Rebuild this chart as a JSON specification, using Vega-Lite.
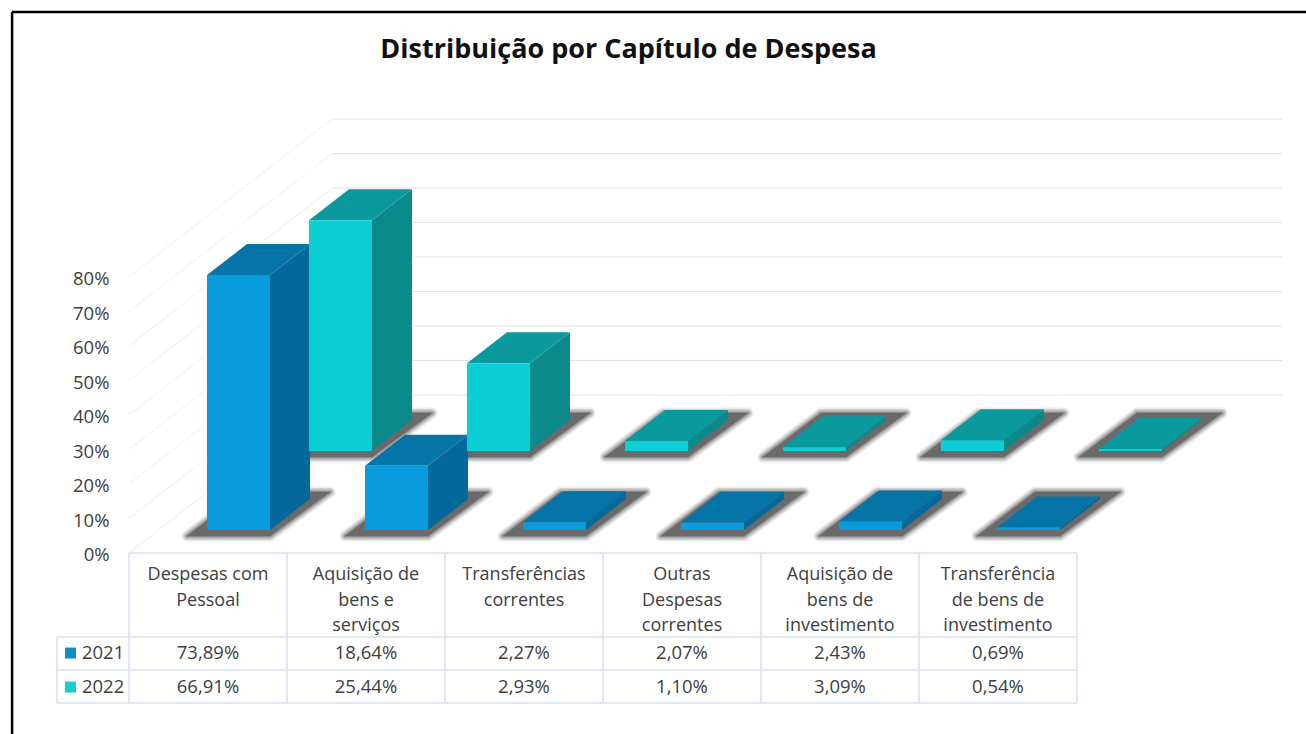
{"$schema":"https://vega.github.io/schema/vega-lite/v6.json","width":1153,"height":434,"autosize":{"type":"none"},"padding":{"left":129,"top":119,"right":24,"bottom":181},"background":"#ffffff","config":{"view":{"stroke":null},"font":"Open Sans","axisY":{"domain":false,"ticks":false,"grid":false,"title":null,"labelPadding":20,"labelOffset":1.5,"labelFont":"Open Sans","labelFontSize":18.5,"labelColor":"#404040"}},
"title":{"text":"Distribuição por Capítulo de Despesa","font":"Open Sans","fontSize":27,"fontWeight":"bold","color":"#111111","anchor":"middle","dx":-77,"offset":-53},
"datasets":{"bars":[
{"cat":"Despesas com\nPessoal","year":"2021","value":73.89},{"cat":"Aquisição de\nbens e\nserviços","year":"2021","value":18.64},{"cat":"Transferências\ncorrentes","year":"2021","value":2.27},{"cat":"Outras\nDespesas\ncorrentes","year":"2021","value":2.07},{"cat":"Aquisição de\nbens de\ninvestimento","year":"2021","value":2.43},{"cat":"Transferência\nde bens de\ninvestimento","year":"2021","value":0.69},
{"cat":"Despesas com\nPessoal","year":"2022","value":66.91},{"cat":"Aquisição de\nbens e\nserviços","year":"2022","value":25.44},{"cat":"Transferências\ncorrentes","year":"2022","value":2.93},{"cat":"Outras\nDespesas\ncorrentes","year":"2022","value":1.10},{"cat":"Aquisição de\nbens de\ninvestimento","year":"2022","value":3.09},{"cat":"Transferência\nde bens de\ninvestimento","year":"2022","value":0.54}],
"levels":[{"level":0},{"level":10},{"level":20},{"level":30},{"level":40},{"level":50},{"level":60},{"level":70},{"level":80}],
"cols":[{"col":0},{"col":1},{"col":2},{"col":3},{"col":4},{"col":5},{"col":6}],
"rows":[{"row":-24.35},{"row":-33.9},{"row":-43.5}]},
"layer":[
{"data":{"name":"levels"},"transform":[{"calculate":"datum.level+45.8","as":"back"}],"layer":[
{"mark":{"type":"rule","color":"#f4f5fa","strokeWidth":1.5},"encoding":{"x":{"datum":0,"type":"quantitative","scale":{"domain":[0,7.2975],"nice":false,"zero":false},"axis":null},"x2":{"datum":1.285},"y":{"field":"level","type":"quantitative","scale":{"domain":[0,125.8],"nice":false,"zero":false},"axis":{"values":[0,10,20,30,40,50,60,70,80],"labelExpr":"datum.value+'%'","title":null}},"y2":{"field":"back"}}},
{"mark":{"type":"rule","color":"#dbe4f1","strokeWidth":1.2},"encoding":{"x":{"datum":1.285,"type":"quantitative","axis":null},"x2":{"datum":7.2975},"y":{"field":"back","type":"quantitative"}}}
]},
{"data":{"name":"bars"},"transform":[
{"window":[{"op":"row_number","as":"n"}],"groupby":["year"]},
{"calculate":"datum.year==='2021'?6.67:29.57","as":"y0"},
{"calculate":"datum.n-1+(datum.year==='2021'?0.4937:1.1392)","as":"xl"},
{"calculate":"datum.xl+0.3987","as":"xr"},
{"calculate":"datum.y0+datum.value","as":"ytop"},
{"calculate":"datum.year+datum.n","as":"key"},
{"calculate":"[0,1]","as":"t"},{"flatten":["t"]},
{"calculate":"datum.xl+(datum.t*58-20)/158","as":"sxa"},
{"calculate":"datum.xr+(datum.t*60)/158","as":"sxb"},
{"calculate":"datum.y0+(datum.t*44-6)/3.45","as":"sy"},
{"calculate":"datum.xr+datum.t*0.2532","as":"sidex"},
{"calculate":"datum.ytop+datum.t*8.986","as":"sidetop"},
{"calculate":"datum.y0+datum.t*8.986","as":"sidebase"},
{"calculate":"datum.xl+datum.t*0.2532","as":"topa"},
{"calculate":"datum.xr+datum.t*0.2532","as":"topb"}],
"layer":[
{"mark":{"type":"area","orient":"horizontal","color":"#555555","stroke":"#555555","strokeWidth":11,"strokeJoin":"round","opacity":0.1},"encoding":{"y":{"field":"sy","type":"quantitative"},"x":{"field":"sxa","type":"quantitative","axis":null},"x2":{"field":"sxb"},"detail":{"field":"key"}}},
{"mark":{"type":"area","orient":"horizontal","color":"#555555","stroke":"#555555","strokeWidth":8,"strokeJoin":"round","opacity":0.18},"encoding":{"y":{"field":"sy","type":"quantitative"},"x":{"field":"sxa","type":"quantitative","axis":null},"x2":{"field":"sxb"},"detail":{"field":"key"}}},
{"mark":{"type":"area","orient":"horizontal","color":"#555555","stroke":"#555555","strokeWidth":5,"strokeJoin":"round","opacity":0.28},"encoding":{"y":{"field":"sy","type":"quantitative"},"x":{"field":"sxa","type":"quantitative","axis":null},"x2":{"field":"sxb"},"detail":{"field":"key"}}},
{"mark":{"type":"area","orient":"horizontal","color":"#555555","stroke":"#555555","strokeWidth":2,"strokeJoin":"round","opacity":0.4},"encoding":{"y":{"field":"sy","type":"quantitative"},"x":{"field":"sxa","type":"quantitative","axis":null},"x2":{"field":"sxb"},"detail":{"field":"key"}}},
{"mark":{"type":"area","orient":"horizontal","color":"#555555","opacity":0.6},"encoding":{"y":{"field":"sy","type":"quantitative"},"x":{"field":"sxa","type":"quantitative","axis":null},"x2":{"field":"sxb"},"detail":{"field":"key"}}},
{"mark":{"type":"area"},"encoding":{"x":{"field":"sidex","type":"quantitative","axis":null},"y":{"field":"sidetop","type":"quantitative"},"y2":{"field":"sidebase"},"detail":{"field":"key"},"color":{"field":"year","type":"nominal","legend":null,"scale":{"domain":["2021","2022"],"range":["#05689a","#0b8a8c"]}}}},
{"mark":{"type":"area","orient":"horizontal"},"encoding":{"y":{"field":"sidetop","type":"quantitative"},"x":{"field":"topa","type":"quantitative","axis":null},"x2":{"field":"topb"},"detail":{"field":"key"},"color":{"field":"year","type":"nominal","legend":null,"scale":{"domain":["2021","2022"],"range":["#0574a6","#0a9a9e"]}}}},
{"transform":[{"filter":"datum.t===0"}],"mark":{"type":"rect"},"encoding":{"x":{"field":"xl","type":"quantitative","axis":null},"x2":{"field":"xr"},"y":{"field":"ytop","type":"quantitative"},"y2":{"field":"y0"},"color":{"field":"year","type":"nominal","legend":null,"scale":{"domain":["2021","2022"],"range":["#0a9bdc","#0ccfd6"]}}}}
],"resolve":{"scale":{"color":"independent"}}},
{"data":{"name":"cols"},"mark":{"type":"rule","color":"#d8e1ef","strokeWidth":1.5},"encoding":{"x":{"field":"col","type":"quantitative","axis":null},"y":{"datum":0,"type":"quantitative"},"y2":{"datum":-43.5}}},
{"data":{"name":"rows"},"mark":{"type":"rule","color":"#d8e1ef","strokeWidth":1.5},"encoding":{"y":{"field":"row","type":"quantitative"},"x":{"datum":-0.456,"type":"quantitative","axis":null},"x2":{"datum":6}}},
{"data":{"values":[{"edge":"header"}]},"layer":[
{"mark":{"type":"rule","color":"#d8e1ef","strokeWidth":1.5},"encoding":{"y":{"datum":0,"type":"quantitative"},"x":{"datum":0,"type":"quantitative","axis":null},"x2":{"datum":6}}},
{"mark":{"type":"rule","color":"#d8e1ef","strokeWidth":1.5},"encoding":{"x":{"datum":-0.456,"type":"quantitative","axis":null},"y":{"datum":-24.35,"type":"quantitative"},"y2":{"datum":-43.5}}},
{"mark":{"type":"rule","color":"#000000","strokeWidth":2.5},"encoding":{"x":{"datum":-0.74,"type":"quantitative","axis":null},"y":{"datum":156.8,"type":"quantitative"},"y2":{"datum":-53}}},
{"mark":{"type":"rule","color":"#000000","strokeWidth":2.5},"encoding":{"y":{"datum":156.8,"type":"quantitative"},"x":{"datum":-0.74,"type":"quantitative","axis":null},"x2":{"datum":7.46}}}
]},
{"data":{"name":"bars"},"transform":[
{"window":[{"op":"row_number","as":"n"}],"groupby":["year"]},
{"calculate":"datum.n-0.5","as":"center"},
{"calculate":"replace(format(datum.value,'.2f'),'.',',')+'%'","as":"label"},
{"calculate":"datum.year==='2021'?-29:-38.85","as":"rowy"}],
"layer":[
{"transform":[{"filter":"datum.year==='2021'"}],"mark":{"type":"text","baseline":"top","align":"center","lineBreak":"\n","lineHeight":25.5,"font":"Open Sans","fontSize":18,"color":"#404040"},"encoding":{"x":{"field":"center","type":"quantitative","axis":null},"y":{"datum":-3.8,"type":"quantitative"},"text":{"field":"cat"}}},
{"mark":{"type":"text","baseline":"middle","align":"center","font":"Open Sans","fontSize":18.5,"color":"#404040"},"encoding":{"x":{"field":"center","type":"quantitative","axis":null},"y":{"field":"rowy","type":"quantitative"},"text":{"field":"label"}}},
{"transform":[{"filter":"datum.n===1"},{"calculate":"-0.298","as":"lx"},{"calculate":"-0.37","as":"kx"}],"layer":[
{"mark":{"type":"text","baseline":"middle","align":"left","font":"Open Sans","fontSize":18.5,"color":"#404040"},"encoding":{"x":{"field":"lx","type":"quantitative","axis":null},"y":{"field":"rowy","type":"quantitative"},"text":{"field":"year"}}},
{"mark":{"type":"point","shape":"square","filled":true,"size":121,"opacity":1},"encoding":{"x":{"field":"kx","type":"quantitative","axis":null},"y":{"field":"rowy","type":"quantitative"},"color":{"field":"year","type":"nominal","legend":null,"scale":{"domain":["2021","2022"],"range":["#0e8fc4","#14d0cc"]}}}}
]}
],"resolve":{"scale":{"color":"independent"}}}
],
"resolve":{"scale":{"color":"independent"}}}
